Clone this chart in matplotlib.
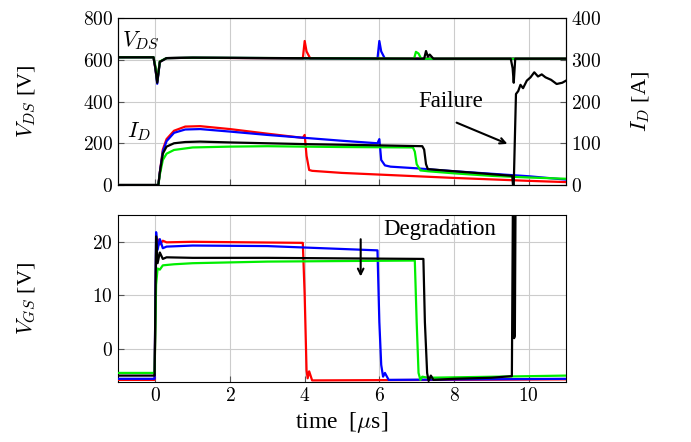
import matplotlib
matplotlib.use("Agg")
import matplotlib.pyplot as plt
from matplotlib.ticker import FuncFormatter

plt.rcParams['font.family'] = ['Liberation Serif', 'DejaVu Serif']
plt.rcParams['mathtext.fontset'] = 'cm'

# ---------------- data ----------------
colors = {'red': '#ff0000', 'blue': '#0000ff', 'green': '#00ee00', 'black': '#000000'}

# V_DS [V]
t_vds_red = [-1, -0.05, 0.0, 0.05, 0.12, 0.3, 1, 3.95, 4.0, 4.05, 4.15, 11]
vds_red = [612, 612, 560, 495, 590, 608, 610, 606, 690, 640, 606, 606]
t_vds_blue = [-1, -0.05, 0.0, 0.05, 0.12, 0.3, 1, 5.95, 6.0, 6.05, 6.15, 11]
vds_blue = [612, 612, 560, 485, 590, 608, 610, 605, 690, 640, 605, 605]
t_vds_green = [-1, -0.05, 0.0, 0.05, 0.12, 0.3, 1, 6.93, 6.98, 7.05, 7.12, 11]
vds_green = [612, 612, 570, 500, 592, 608, 610, 605, 638, 630, 605, 605]
t_vds_black = [-1, -0.05, 0.0, 0.05, 0.12, 0.3, 1, 7.2, 7.25, 7.3, 7.35, 7.45,
               9.52, 9.57, 9.6, 9.64, 11]
vds_black = [612, 612, 560, 490, 590, 608, 610, 605, 642, 615, 625, 605,
             605, 560, 490, 605, 605]

# I_D [A]
t_id_red = [-1, 0.08, 0.12, 0.2, 0.3, 0.5, 0.8, 1.2, 2, 3, 3.95, 4.0, 4.05,
            4.12, 4.2, 5, 6, 8, 10, 11]
id_red = [0, 0, 30, 85, 110, 130, 140, 141, 134, 123, 113, 120, 70,
          36, 34, 29, 25, 17, 10, 7]
t_id_blue = [-1, 0.08, 0.12, 0.2, 0.3, 0.5, 0.8, 1.2, 2, 3, 4, 5, 5.95, 6.0,
             6.05, 6.15, 6.3, 7, 8, 9, 10, 11]
id_blue = [0, 0, 30, 80, 105, 125, 133, 134, 128, 120, 113, 106, 100, 110,
           60, 47, 44, 40, 33, 27, 21, 13]
t_id_green = [-1, 0.08, 0.12, 0.2, 0.3, 0.5, 1, 2, 3, 5, 6.9, 6.95, 7.0, 7.1,
              7.3, 8, 9, 10, 11]
id_green = [0, 0, 25, 60, 75, 84, 90, 92, 93, 91, 90, 80, 50, 35,
            33, 28, 22, 18, 15]
t_id_black = [-1, 0.08, 0.12, 0.2, 0.3, 0.5, 0.8, 1.2, 2, 4, 6, 7.15, 7.2,
              7.25, 7.3, 8, 9, 9.56, 9.58, 9.6, 9.63, 9.66, 9.72, 9.78, 9.85,
              9.95, 10.05, 10.15, 10.25, 10.35, 10.45, 10.6, 10.75, 10.9, 11]
id_black = [0, 0, 30, 75, 92, 100, 103, 104, 102, 98, 95, 93, 85,
            50, 38, 33, 26, 22, 0, 0, 110, 218, 225, 240, 232,
            250, 258, 270, 260, 265, 258, 252, 242, 245, 250]

# V_GS [V]
t_vgs_red = [-1, -0.02, 0.02, 0.06, 0.12, 0.2, 0.3, 1, 3.95, 4.0, 4.05,
             4.08, 4.12, 4.2, 11]
vgs_red = [-5.8, -5.8, 18, 20.5, 19.5, 20.2, 19.9, 20.0, 19.8, 10, -4,
           -5.5, -4.2, -5.9, -5.7]
t_vgs_blue = [-1, -0.02, 0.02, 0.06, 0.12, 0.2, 0.3, 1, 3, 5.95, 6.0, 6.05,
              6.1, 6.15, 6.25, 11]
vgs_blue = [-5.6, -5.6, 21.8, 18.5, 20.5, 18.8, 19.1, 19.3, 19.2, 18.4, 5,
            -3, -5.2, -4.5, -5.8, -5.6]
t_vgs_green = [-1, -0.02, 0.02, 0.06, 0.12, 0.2, 0.5, 1, 3, 6.95, 7.0, 7.05,
               7.1, 7.15, 7.3, 11]
vgs_green = [-4.5, -4.5, 12, 15, 14.8, 15.6, 15.8, 16.0, 16.3, 16.5, 5,
             -4.5, -5.8, -5.2, -5.4, -5.0]
t_vgs_black = [-1, -0.02, 0.02, 0.06, 0.12, 0.2, 0.3, 1, 3, 7.18, 7.22, 7.28,
               7.32, 7.38, 7.45, 8, 9, 9.55, 9.58, 9.61, 9.63, 9.65, 11]
vgs_black = [-5.0, -5.0, 21.0, 16.0, 18.0, 16.8, 17.1, 17.0, 17.0, 16.8, 5,
             -4.5, -6.0, -5.0, -5.8, -5.6, -5.4, -5.1, 30, 2, 2.5, 30, 30]

xticks = [0, 2, 4, 6, 8, 10]
vds_ticks = [0, 200, 400, 600, 800]
id_ticks = [0, 100, 200, 300, 400]
vgs_ticks = [0, 10, 20]

# ---------------- figure ----------------
fig = plt.figure(figsize=(6.91, 4.42), dpi=100)
ax1 = fig.add_axes([0.1708, 0.5814, 0.6483, 0.3778])
ax1r = ax1.twinx()
ax2 = fig.add_axes([0.1708, 0.1357, 0.6483, 0.3778])

lw = 1.6
cmfmt = FuncFormatter(lambda v, p: r'$%g$' % v)

for ax in (ax1, ax2, ax1r):
    ax.tick_params(direction='in', length=4, color='#555555', labelsize=14)
for ax in (ax1, ax2):
    ax.set_xlim(-1, 11)
    ax.set_xticks(xticks)
    ax.grid(True, color='#cccccc', linewidth=0.8)
    ax.set_axisbelow(True)
    ax.xaxis.set_major_formatter(cmfmt)
    ax.yaxis.set_major_formatter(cmfmt)

# top: V_DS on left axis, I_D on right axis
ax1.set_ylim(0, 800)
ax1.set_yticks(vds_ticks)
ax1.tick_params(labelbottom=False)
ax1r.set_ylim(0, 400)
ax1r.set_yticks(id_ticks)
ax1r.yaxis.set_major_formatter(cmfmt)

series = [('red', t_vds_red, vds_red, t_id_red, id_red, t_vgs_red, vgs_red),
          ('blue', t_vds_blue, vds_blue, t_id_blue, id_blue, t_vgs_blue, vgs_blue),
          ('green', t_vds_green, vds_green, t_id_green, id_green, t_vgs_green, vgs_green),
          ('black', t_vds_black, vds_black, t_id_black, id_black, t_vgs_black, vgs_black)]

for name, tv, v, ti, i, tg, g in series:
    c = colors[name]
    ax1.plot(tv, v, color=c, lw=lw, zorder=3)
    ax1r.plot(ti, i, color=c, lw=lw, zorder=3)
    ax2.plot(tg, g, color=c, lw=lw, zorder=3)

ax2.set_ylim(-6.2, 25)
ax2.set_yticks(vgs_ticks)

ax1.set_ylabel(r'$V_{DS}$ [V]', fontsize=16)
ax1r.set_ylabel(r'$I_D$ [A]', fontsize=16, labelpad=20)
ax2.set_ylabel(r'$V_{GS}$ [V]', fontsize=16)
ax2.set_xlabel(r'time  [$\mu$s]', fontsize=17, labelpad=4)
ax1.yaxis.set_label_coords(-0.178, 0.5)
ax2.yaxis.set_label_coords(-0.178, 0.5)

# annotations
ax1.text(-0.9, 635, r'$V_{DS}$', fontsize=16, va='bottom', ha='left')
ax1r.text(-0.75, 100, r'$I_D$', fontsize=16, va='bottom', ha='left')
ax1r.text(7.9, 201, 'Failure', fontsize=16.5, ha='center', va='center')
ax1r.annotate('', xy=(9.5, 96), xytext=(8.0, 152),
              arrowprops=dict(arrowstyle='->', color='black', lw=1.5))
ax2.text(6.1, 22.3, 'Degradation', fontsize=16.5, ha='left', va='center')
ax2.annotate('', xy=(5.5, 13.0), xytext=(5.5, 21.0),
             arrowprops=dict(arrowstyle='->', color='black', lw=1.5))

fig.savefig('out.png', dpi=100)
